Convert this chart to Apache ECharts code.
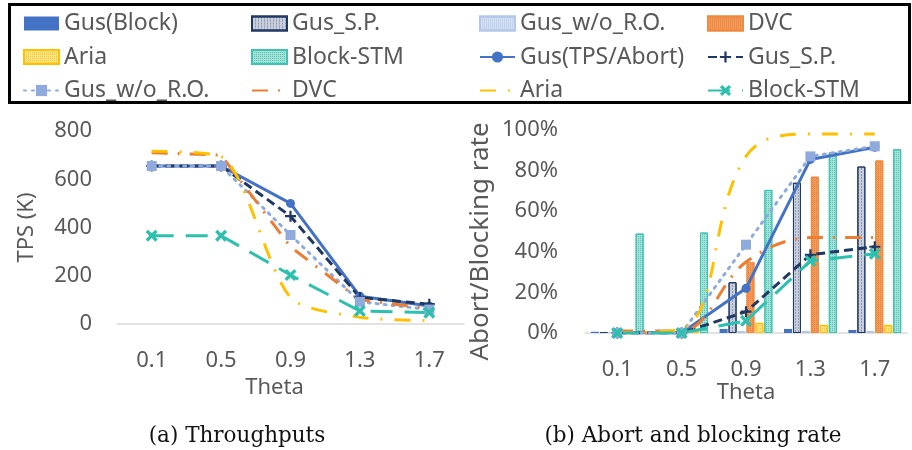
<!DOCTYPE html>
<html><head><meta charset="utf-8">
<script src="https://cdn.jsdelivr.net/npm/echarts@6/dist/echarts.min.js"></script>
<style>html,body{margin:0;padding:0;background:#fff}#c{width:912px;height:450px}</style>
</head><body><div id="c"></div>
<script>
// ---------- data ----------
const thetas = ['0.1', '0.5', '0.9', '1.3', '1.7'];
// (a) Throughputs, TPS (K)
const tpsGus      = [655, 655, 500, 115, 75];
const tpsGusSP    = [655, 655, 447, 110, 82];
const tpsGusWoRO  = [655, 655, 369, 92, 60];
const tpsDVC      = [710, 700, 320, 100, 65];
const tpsAria     = [716, 694, 110, 28, 14];
const tpsBlockSTM = [366, 366, 203, 54, 47];
// (b) Blocking rate bars (%)
const blkGus      = [0.6, 0.5, 2, 2, 1.5];
const blkGusSP    = [0.5, 0.5, 25, 74, 82];
const blkGusWoRO  = [0.5, 0.5, 1, 1, 1];
const blkDVC      = [1, 1, 35, 77, 85];
const blkAria     = [0.5, 1, 5, 4, 4];
const blkBlockSTM = [49, 49.5, 70.5, 89, 90.5];
// (b) Abort rate lines (%)
const abGus      = [0, 0, 22, 85.5, 91.5];
const abGusSP    = [0, 0, 10.5, 38.5, 42.5];
const abGusWoRO  = [0, 0, 43.5, 87, 92];
const abDVC      = [1, 1, 35, 47, 47];
const abAria     = [0, 2, 87, 98, 98];
const abBlockSTM = [0, 0, 6, 35.5, 39];
const tpsTicks = [0, 200, 400, 600, 800];
const rateTicks = [0, 20, 40, 60, 80, 100];

// ---------- styles ----------
const Z = '\u200b';
const GREY = '#595959';
const FONT = 'Noto Sans';
const C = {gus:'#4472C4', sp:'#203864', wo:'#8FAADC', dvc:'#ED7D31', aria:'#FFC000', stm:'#2EC0AE'};
const PLUS = 'path://M4,0H6V4H10V6H6V10H4V6H0V4H4Z';
const CROSS = 'path://M0,2L2,0L5,3L8,0L10,2L7,5L10,8L8,10L5,7L2,10L0,8L3,5Z';

const barNames = ['Gus(Block)', 'Gus_S.P.' + Z, 'Gus_w/o_R.O.' + Z, 'DVC' + Z, 'Aria' + Z, 'Block-STM' + Z];
const lineNames = ['Gus(TPS/Abort)', 'Gus_S.P.', 'Gus_w/o_R.O.', 'DVC', 'Aria', 'Block-STM'];

function lineSeries(name, data, axisIdx, opt) {
  return Object.assign({
    type: 'line', name, data, xAxisIndex: axisIdx, yAxisIndex: axisIdx,
    symbol: 'none', symbolSize: 10, showSymbol: true
  }, opt);
}
function lineOpts(kind, isRight) {
  switch (kind) {
    case 0: return {symbol:'circle', symbolSize:9, itemStyle:{color:C.gus}, lineStyle:{color:C.gus, width:3}};
    case 1: return {symbol:PLUS, symbolSize:11, itemStyle:{color:C.sp}, lineStyle:{color:C.sp, width:3, type:[9,5]}};
    case 2: return {symbol:'rect', symbolSize:10, itemStyle:{color:C.wo}, lineStyle:{color:C.wo, width:3, type:[2,6], cap:'round'}};
    case 3: return {symbol:'none', itemStyle:{color:C.dvc}, lineStyle:{color:C.dvc, width:3, type:[16,10,2,10]}, smooth: isRight ? 0.35 : false};
    case 4: return {symbol:'none', itemStyle:{color:C.aria}, lineStyle:{color:C.aria, width:3, type:[16,12,2,12]}, smooth: isRight ? 0.4 : 0.25};
    case 5: return {symbol:CROSS, symbolSize:12, itemStyle:{color:C.stm}, lineStyle:{color:C.stm, width:3, type:[22,12]}};
  }
}
const tpsData = [tpsGus, tpsGusSP, tpsGusWoRO, tpsDVC, tpsAria, tpsBlockSTM];
const abData = [abGus, abGusSP, abGusWoRO, abDVC, abAria, abBlockSTM];
const blkData = [blkGus, blkGusSP, blkGusWoRO, blkDVC, blkAria, blkBlockSTM];
const barStyles = [
  {color:C.gus},
  {color:'#C8CEDC', borderColor:C.sp, borderWidth:1,
   decal:{symbol:'rect', symbolSize:1, color:'rgba(32,56,100,0.35)', dashArrayX:[1,2], dashArrayY:[2,1]}},
  {color:'#D2DEF2', borderColor:'#B4C7E7', borderWidth:1,
   decal:{symbol:'rect', symbolSize:1, color:'rgba(143,170,220,0.45)', dashArrayX:[1,1], dashArrayY:[1,1]}},
  {color:'#F29A5A', borderColor:'#F08A3E', borderWidth:1,
   decal:{symbol:'rect', symbolSize:1, color:'rgba(237,125,49,0.9)', dashArrayX:[1,1], dashArrayY:[1,1]}},
  {color:'#FFE48A', borderColor:'#FFC000', borderWidth:1,
   decal:{symbol:'rect', symbolSize:1, color:'rgba(255,192,0,0.8)', dashArrayX:[1,1], dashArrayY:[1,1]}},
  {color:'#A5E1D8', borderColor:'#3CC3B4', borderWidth:1,
   decal:{symbol:'rect', symbolSize:1, color:'rgba(46,192,174,0.7)', dashArrayX:[1,1], dashArrayY:[1,1]}}
];

const series = [];
lineNames.forEach((n, i) => series.push(lineSeries(n, tpsData[i], 0, lineOpts(i, false))));
barNames.forEach((n, i) => series.push({
  type:'bar', name:n, data:blkData[i], xAxisIndex:1, yAxisIndex:1,
  barWidth:8, barGap:'12%', itemStyle: barStyles[i]
}));
lineNames.forEach((n, i) => series.push(lineSeries(n, abData[i], 1, lineOpts(i, true))));

function legItem(n) {
  if (barNames.includes(n)) return {name:n, icon:'rect'};
  if (n === 'DVC' || n === 'Aria') return {name:n, itemStyle:{color:'rgba(0,0,0,0)', opacity:0, borderWidth:0}};
  return {name:n};
}
const legendCols = [
  [barNames[0], barNames[4], lineNames[2]],
  [barNames[1], barNames[5], lineNames[3]],
  [barNames[2], lineNames[0], lineNames[4]],
  [barNames[3], lineNames[1], lineNames[5]]
];
const legendLeft = [23, 251, 479, 707];
const legends = legendCols.map((d, i) => ({
  data: d.map(legItem), orient: 'vertical', left: legendLeft[i], top: 12, itemGap: 10.5,
  itemWidth: 35, itemHeight: 14, selectedMode: false, padding: 0,
  formatter: n => n.replace(Z, ''),
  textStyle: {color: GREY, fontSize: 23, fontFamily: FONT, lineHeight: 22, padding: [0,0,0,0]}
}));

const axisLbl = {color: GREY, fontSize: 22, fontFamily: FONT};
const option = {
  animation: false,
  legend: legends,
  grid: [
    {left: 117, width: 347, top: 131, bottom: 126},
    {left: 585, width: 322, top: 130, bottom: 117}
  ],
  xAxis: [0, 1].map(i => ({
    type: 'category', data: thetas, gridIndex: i,
    axisLine: {lineStyle: {color: '#D9D9D9', width: 1.5}},
    axisTick: {show: false},
    axisLabel: Object.assign({margin: 26}, axisLbl),
    name: 'Theta', nameLocation: 'middle', nameGap: i === 0 ? 53 : 42,
    nameTextStyle: Object.assign({padding: i === 0 ? [0, 32, 0, 0] : 0}, axisLbl)
  })),
  yAxis: [
    {type:'value', gridIndex:0, min:0, max:800, interval:200,
     axisLine:{show:false}, axisTick:{show:false}, splitLine:{show:false},
     axisLabel: Object.assign({margin: 25}, axisLbl),
     name:'TPS (K)', nameLocation:'middle', nameGap:79, nameTextStyle: axisLbl},
    {type:'value', gridIndex:1, min:0, max:100, interval:20,
     axisLine:{show:false}, axisTick:{show:false}, splitLine:{show:false},
     axisLabel: Object.assign({margin: 27, formatter:'{value}%'}, axisLbl),
     name:'Abort/Blocking rate', nameLocation:'middle', nameGap:91,
     nameTextStyle: Object.assign({}, axisLbl, {fontSize:26, padding:[0,20,0,0]})}
  ],
  graphic: [
    {type:'rect', shape:{x:9.5, y:4.5, width:900, height:98}, style:{fill:'none', stroke:'#000', lineWidth:3}, z:-1},
    {type:'text', x:237, y:436, style:{text:'(a) Throughputs', font:'21.5px "DejaVu Serif"', fill:'#111', align:'center', verticalAlign:'middle'}},
    {type:'text', x:693, y:436, style:{text:'(b) Abort and blocking rate', font:'21.5px "DejaVu Serif"', fill:'#111', align:'center', verticalAlign:'middle'}}
  ],
  series
};
const chart = echarts.init(document.getElementById('c'), null, {renderer:'canvas'});
chart.setOption(option);
</script></body></html>
